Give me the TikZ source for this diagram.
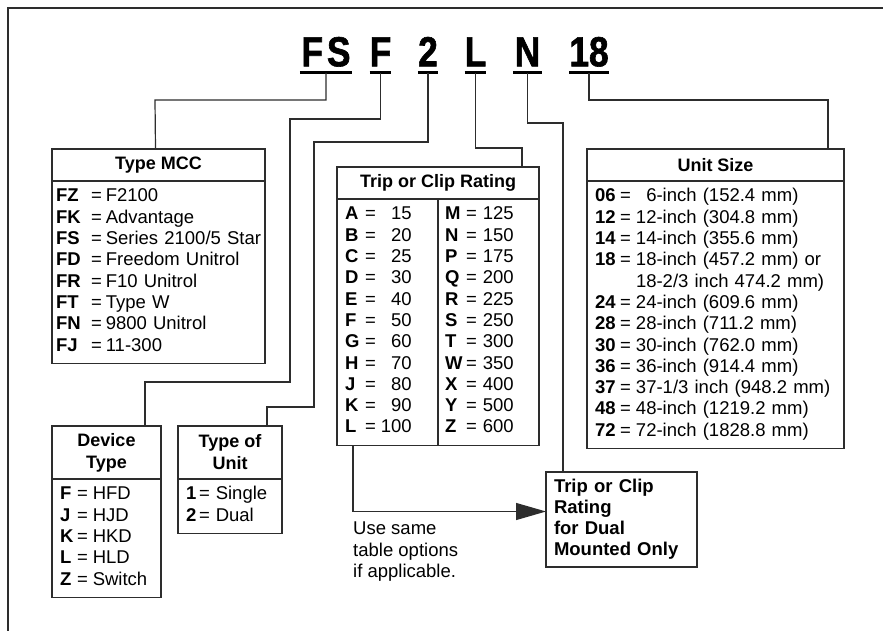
\documentclass[tikz,border=0pt]{standalone}
\usepackage{fontspec}
\setmainfont{Liberation Sans}
\newfontfamily\codefont[FakeStretch=0.84, FakeBold=1.5]{Liberation Sans Bold}
\usepackage{array}
\usetikzlibrary{arrows.meta, positioning}
\definecolor{linegray}{RGB}{45,45,45}

\begin{document}
\begin{tikzpicture}[
    x=1pt, y=-1pt,
    every node/.style={font=\fontsize{18.5}{21.3}\selectfont},
    code/.style={
        font=\codefont\fontsize{42}{42}\selectfont, anchor=south,
        inner xsep=0pt, inner ysep=6.5pt, text depth=0pt
    },
    header/.style={
        draw=linegray, line width=1.2pt, outer sep=0pt, inner sep=0pt,
        anchor=north west, align=center, minimum height=32pt,
        font=\fontsize{18}{22}\selectfont\bfseries
    },
    listbox/.style={
        draw=linegray, line width=1.2pt, outer sep=0pt,
        inner xsep=8pt, inner ysep=6pt, align=left
    },
    link/.style={draw=linegray, line width=1.2pt},
    arrow/.style={link, -{Triangle[length=30pt, width=17pt]}}
]
\useasboundingbox (0,0) rectangle (883,631);

% Frame
\draw[line width=1.5pt, linegray] (8,631) -- (8,8) -- (883,8);

% Catalog number
\node[code, minimum width=52pt] (fs) at (326,73) {F\kern4pt S};
\node[code, minimum width=19pt] (devf) at (380.5,73) {F};
\node[code, minimum width=20pt] (unit2) at (428,73) {2};
\node[code, minimum width=19pt] (tripl) at (475.5,73) {L};
\node[code, minimum width=29pt] (dualn) at (527.5,73) {N};
\node[code, minimum width=38pt] (size18) at (589,73) {18};
\foreach \n in {fs, devf, unit2, tripl, dualn, size18}
    \draw[line width=3pt] (\n.south west) -- (\n.south east);

% Type MCC
\node[header, minimum width=213pt] (mcc) at (52,149) {Type MCC};
\node[listbox, below=0pt of mcc, inner xsep=4pt, text width=205pt] (mccbody) {%
    \begin{tabular}{@{}>{\bfseries}p{35pt}@{=\hspace{4pt}}l@{}}
    FZ & F2100\\ FK & Advantage\\ FS & Series 2100/5 Star\\
    FD & Freedom Unitrol\\ FR & F10 Unitrol\\ FT & Type W\\
    FN & 9800 Unitrol\\ FJ & 11-300
    \end{tabular}};

% Trip or Clip Rating
\node[header, minimum width=202pt] (trip) at (337,167) {Trip or Clip Rating};
\node[listbox, below=0pt of trip, text width=186pt] (tripbody) {%
    \makebox[100pt][l]{\begin{tabular}{@{}>{\bfseries}p{20pt}@{=\hspace{5pt}}r@{}}
    A & 15\\ B & 20\\ C & 25\\ D & 30\\ E & 40\\ F & 50\\
    G & 60\\ H & 70\\ J & 80\\ K & 90\\ L & 100
    \end{tabular}}%
    \begin{tabular}{@{}>{\bfseries}p{21pt}@{=\hspace{6pt}}l@{}}
    M & 125\\ N & 150\\ P & 175\\ Q & 200\\ R & 225\\ S & 250\\
    T & 300\\ W & 350\\ X & 400\\ Y & 500\\ Z & 600
    \end{tabular}};
\draw[link] (trip.south) -- (tripbody.south);

% Unit Size
\node[header, minimum width=257pt] (size) at (587,149) {Unit Size};
\node[listbox, below=0pt of size, text width=241pt] (sizebody) {%
    \begin{tabular}{@{}>{\bfseries}p{25pt}@{}p{16pt}@{}l@{}}
    06 & = & \hphantom{1}6-inch (152.4 mm)\\
    12 & = & 12-inch (304.8 mm)\\
    14 & = & 14-inch (355.6 mm)\\
    18 & = & 18-inch (457.2 mm) or\\
       &   & 18-2/3 inch 474.2 mm)\\
    24 & = & 24-inch (609.6 mm)\\
    28 & = & 28-inch (711.2 mm)\\
    30 & = & 30-inch (762.0 mm)\\
    36 & = & 36-inch (914.4 mm)\\
    37 & = & 37-1/3 inch (948.2 mm)\\
    48 & = & 48-inch (1219.2 mm)\\
    72 & = & 72-inch (1828.8 mm)
    \end{tabular}};

% Device Type
\node[header, minimum width=109pt, minimum height=53pt] (devtype) at (52,426) {Device\\Type};
\node[listbox, below=0pt of devtype, text width=93pt] (devtypebody) {%
    \begin{tabular}{@{}>{\bfseries}p{17pt}@{=\hspace{5pt}}l@{}}
    F & HFD\\ J & HJD\\ K & HKD\\ L & HLD\\ Z & Switch
    \end{tabular}};

% Type of Unit
\node[header, minimum width=104pt, minimum height=53pt] (unittype) at (178,426) {Type of\\Unit};
\node[listbox, below=0pt of unittype, text width=88pt] (unittypebody) {%
    \begin{tabular}{@{}>{\bfseries}p{13pt}@{=\hspace{6pt}}l@{}}
    1 & Single\\ 2 & Dual
    \end{tabular}};

% Dual mounted
\node[listbox, anchor=north west, text width=135pt, minimum height=95pt,
      font=\fontsize{18.5}{21}\selectfont\bfseries] (dual) at (546,472)
      {Trip or Clip\\Rating\\for Dual\\Mounted Only};
\node[anchor=north west, inner sep=0pt, align=left] (note) at (353,522)
      {Use same\\table options\\if applicable.};

% Connectors
\draw[link] (fs.south) |- (155,100) -- ([xshift=-3pt]mcc.north);
\draw[link] (devf.south) |- (290,119) |- (145,382) -- ([xshift=38.5pt]devtype.north);
\draw[link] (unit2.south) |- (314,142) |- (267,407) -- ([xshift=37pt]unittype.north);
\draw[link] (tripl.south) |- (522,148) -- ([xshift=-17pt]trip.north east);
\draw[link] (dualn.south) |- (563,123) -- ([xshift=17pt]dual.north west);
\draw[link] (size18.south) |- (828,100) -- ([xshift=-16pt]size.north east);
\draw[arrow] ([xshift=16pt]tripbody.south west) |- ([yshift=8pt]dual.west);

\end{tikzpicture}
\end{document}
